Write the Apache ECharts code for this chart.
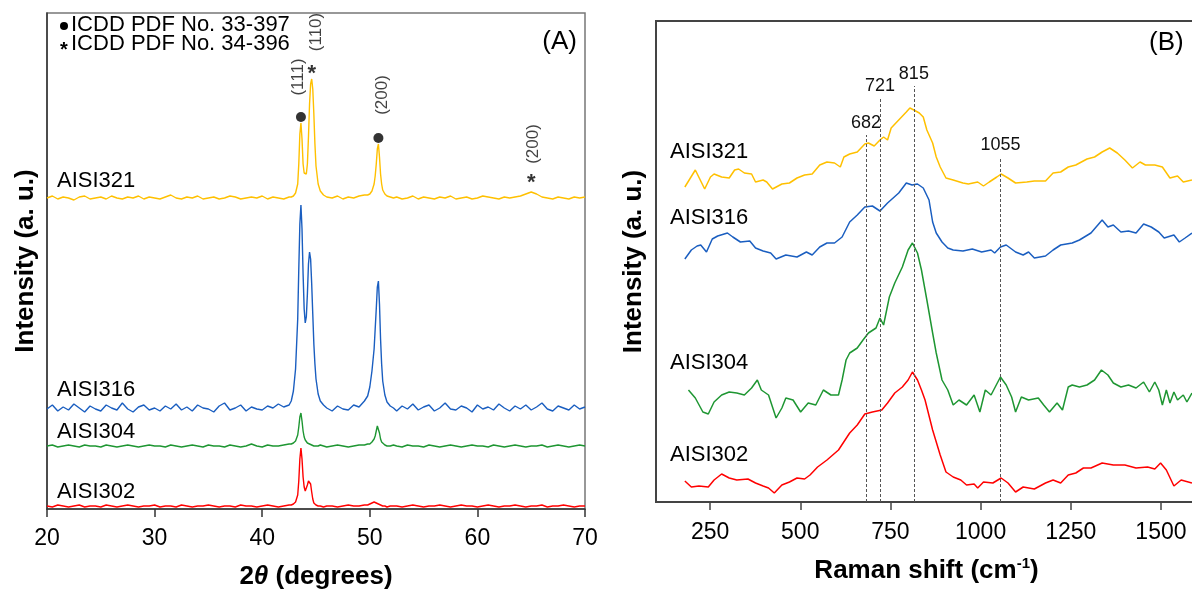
<!DOCTYPE html>
<html>
<head>
<meta charset="utf-8">
<script src="https://cdn.jsdelivr.net/npm/echarts@6/dist/echarts.min.js"></script>
<style>
html,body{margin:0;padding:0;background:#fff;}
#chart{width:1192px;height:592px;}
</style>
</head>
<body>
<div id="chart"></div>
<script>
// ---------------- Panel A : XRD ----------------
const twoTheta = [
  20,20.5,21,21.5,22,22.5,23,23.5,24,24.5,25,25.5,26,26.5,27,27.5,28,28.5,29,29.5,30,30.5,31,31.5,32,32.5,33,33.5,34,34.5,35,35.5,36,36.5,37,37.5,38,38.5,39,39.5,40,40.5,41,41.5,42,42.5,
  42.7,42.9,43.1,43.3,43.4,43.5,43.6,43.7,43.8,43.9,44.0,44.1,44.2,44.3,44.4,44.5,44.6,44.7,44.8,44.9,45.0,45.2,45.4,45.7,46.0,
  46.5,47,47.5,48,48.5,49,49.5,
  49.8,50.0,50.2,50.4,50.5,50.6,50.7,50.8,50.9,51.0,51.1,51.2,51.4,51.6,51.9,52.2,
  52.5,53,53.5,54,54.5,55,55.5,56,56.5,57,57.5,58,58.5,59,59.5,60,60.5,61,61.5,62,62.5,63,63.5,64,64.5,65,65.5,66,66.5,67,67.5,68,68.5,69,69.5,70
];
const xrd321 = [
  311,313,310,312,311,309,312,313,310,311,312,310,313,311,310,312,311,313,310,312,311,310,312,314,311,310,312,311,313,310,311,312,310,311,313,312,310,311,312,311,313,310,312,311,310,312,
  312,313,316,325,345,375,386,370,345,336,334,335,345,372,405,425,430,420,395,365,343,325,318,314,312,
  311,313,310,312,311,313,314,
  314,315,318,325,333,345,360,365,352,335,325,319,315,313,312,311,
  312,310,311,313,310,312,311,310,312,311,313,310,311,312,310,311,313,312,311,310,312,311,312,313,315,317,315,312,311,310,312,311,310,312,311,312
];
const xrd316 = [
  100,104,98,102,99,105,101,97,103,100,98,104,101,99,106,100,97,102,104,99,101,98,103,100,105,99,102,98,104,101,100,97,103,106,99,101,104,98,102,100,99,103,101,105,102,104,
  108,118,140,190,240,285,304,280,235,200,186,192,215,245,257,250,225,195,165,145,130,115,108,104,101,
  98,103,100,99,104,102,108,
  113,122,138,160,180,200,222,228,205,170,145,128,114,107,103,101,
  98,103,100,105,99,102,104,98,101,106,100,99,103,101,97,104,100,102,99,105,101,98,103,100,104,99,102,106,100,98,103,101,99,104,100,102
];
const xrd304 = [
  63,64,62,63,64,63,62,64,63,63,62,64,63,62,63,64,63,62,63,64,63,63,62,64,63,62,63,64,63,62,64,63,63,62,64,63,62,63,65,63,62,64,63,63,64,65,
  65,66,68,74,82,92,96,88,78,72,69,67,66,66,65,65,64,64,63,64,63,63,64,63,62,
  63,64,63,62,63,64,64,
  65,65,67,70,73,78,83,82,76,70,67,65,64,63,63,64,
  63,62,64,63,63,62,64,63,62,63,64,63,62,63,64,63,63,62,64,63,62,63,64,63,62,63,63,64,62,63,64,63,62,63,64,63
];
const xrd302 = [
  3,2,4,3,2,3,4,2,3,3,2,4,3,2,3,4,3,2,3,3,4,2,3,3,2,4,3,2,3,3,4,3,2,3,3,2,4,3,3,2,3,4,3,2,3,4,
  4,5,7,14,28,50,61,50,32,22,18,19,24,28,29,25,17,10,6,5,4,3,3,2,3,
  3,2,3,4,3,3,4,
  4,5,6,7,7,6,5,5,4,4,3,3,3,2,3,3,
  3,2,3,4,3,2,3,3,4,3,2,3,4,3,3,2,3,4,3,2,3,3,4,3,2,3,3,4,2,3,3,4,3,2,3,3
];
const xrdTicks = [20,30,40,50,60,70];
// phase markers
const dotMarkX = [43.6, 50.8];
const dotMarkY = [392, 371];
const starMarkX = [44.6, 65.0];
const starMarkY = [441, 332];
const hklLabels = ['(111)', '(110)', '(200)', '(200)'];
const hklX = [43.4, 45.0, 51.2, 65.2];
const hklY = [432, 477, 414, 365];

// ---------------- Panel B : Raman ----------------
const ramanX321 = [180,209,235,251,261,282,303,318,329,345,365,376,397,407,423,449,470,491,512,533,554,574,595,611,621,637,658,679,689,705,721,731,742,752,773,794,804,815,830,841,851,867,877,888,904,924,951,966,992,1008,1024,1045,1057,1076,1097,1128,1149,1180,1201,1222,1243,1264,1295,1316,1337,1358,1379,1400,1421,1442,1457,1483,1504,1525,1546,1562,1586];
const raman321 = [315,332,313,325,328,325,324,332,333,329,328,320,322,320,313,318,319,324,327,328,337,340,339,335,345,348,350,358,359,356,362,365,362,374,382,390,394,392,389,385,372,359,345,335,324,322,319,318,320,316,320,325,328,324,319,320,321,321,329,330,335,337,343,345,350,354,349,342,334,340,337,337,335,324,326,320,322];
const ramanX316 = [180,198,214,224,240,256,271,298,313,334,360,376,397,418,433,460,491,517,533,554,574,595,616,637,658,679,700,721,742,773,794,810,825,841,857,867,877,893,909,924,951,977,1003,1029,1039,1055,1071,1097,1118,1133,1149,1180,1201,1222,1254,1274,1306,1337,1353,1368,1389,1410,1431,1452,1473,1494,1509,1536,1551,1567,1586];
const raman316 = [243,252,256,257,250,263,266,269,265,260,261,254,251,249,243,247,245,250,247,255,259,259,265,280,287,295,296,291,299,309,319,317,318,314,302,280,269,260,254,252,251,253,250,252,249,255,257,250,247,250,244,246,252,257,259,262,269,282,275,277,270,271,269,278,275,270,264,267,260,264,269];
const ramanX304 = [190,209,230,245,261,282,303,324,345,365,381,392,412,433,449,460,480,501,522,543,564,585,606,616,627,637,658,674,689,710,721,731,747,762,783,799,811,825,836,851,867,877,893,909,924,940,961,982,998,1013,1029,1055,1071,1086,1097,1113,1133,1160,1175,1191,1212,1227,1243,1254,1274,1295,1316,1335,1353,1368,1389,1410,1431,1452,1468,1483,1494,1504,1515,1525,1536,1546,1562,1572,1586];
const raman304 = [112,104,90,88,100,107,110,109,107,114,122,112,107,84,94,104,102,90,99,97,112,107,107,122,142,149,154,162,169,174,184,177,205,219,235,252,259,249,232,202,169,149,122,112,97,102,97,107,90,112,107,125,117,105,90,105,102,104,97,90,99,92,115,117,115,117,122,132,127,119,115,117,114,120,110,120,112,97,112,99,110,102,107,100,109];
const ramanX302 = [180,198,219,245,261,282,303,324,355,376,397,412,428,449,470,491,512,527,548,574,606,637,658,679,700,726,742,762,783,799,811,825,836,846,867,888,904,924,945,961,982,992,1008,1034,1057,1076,1097,1118,1149,1180,1201,1222,1243,1264,1285,1306,1337,1368,1400,1431,1463,1483,1499,1515,1536,1556,1586];
const raman302 = [21,15,16,15,22,28,24,22,23,19,16,14,9,17,20,24,23,27,35,42,52,69,77,88,90,92,99,109,115,122,130,122,112,102,72,47,30,25,22,17,18,14,20,19,24,19,10,15,13,19,22,19,27,29,34,34,39,37,37,34,35,33,39,32,16,22,19];
const ramanTicks = [250,500,750,1000,1250,1500];
// characteristic bands (dashed guides)
const bandPos = [682, 721, 815, 1055];
const bandTop = [367, 404, 416, 345];

const sampleNames = ['AISI321','AISI316','AISI304','AISI302'];
const colors = ['#FFC000','#1A5EC0','#1E9632','#FF0000'];
const FONT = '"Liberation Sans", Arial, sans-serif';

const pair = (xs, ys) => xs.map((x, i) => [x, ys[i]]);

const chart = echarts.init(document.getElementById('chart'), null, {renderer: 'canvas'});

const xrdSeries = [xrd321, xrd316, xrd304, xrd302].map((arr, k) => ({
  type: 'line', xAxisIndex: 0, yAxisIndex: 0, name: sampleNames[k],
  data: pair(twoTheta, arr), showSymbol: false, smooth: false,
  lineStyle: {color: colors[k], width: 1.4}, itemStyle: {color: colors[k]},
  silent: true, z: 3
}));
const ramanSeries = [[ramanX321, raman321], [ramanX316, raman316], [ramanX304, raman304], [ramanX302, raman302]].map((d, k) => ({
  type: 'line', xAxisIndex: 1, yAxisIndex: 1, name: sampleNames[k] + 'R',
  data: pair(d[0], d[1]), showSymbol: false, smooth: false,
  lineStyle: {color: colors[k], width: 1.5}, itemStyle: {color: colors[k]},
  silent: true, z: 3
}));
ramanSeries[3].markLine = {
  silent: true, symbol: ['none', 'none'], animation: false,
  lineStyle: {color: '#555', width: 1, type: [3, 2]},
  label: {show: true, position: 'end', distance: 3, color: '#111', fontSize: 18, fontFamily: FONT,
          formatter: p => p.name},
  data: bandPos.map((x, i) => [{name: String(x), coord: [x, 0]}, {coord: [x, bandTop[i]]}])
};

const option = {
  animation: false,
  backgroundColor: '#fff',
  textStyle: {fontFamily: FONT},
  grid: [
    {left: 47, top: 13, width: 538, height: 496, show: true, borderColor: '#777', borderWidth: 1.5,
     backgroundColor: 'transparent', containLabel: false, outerBoundsMode: 'none'},
    {left: 656, top: 21, width: 541, height: 481, show: true, borderColor: '#444', borderWidth: 2,
     backgroundColor: 'transparent', containLabel: false, outerBoundsMode: 'none'}
  ],
  xAxis: [
    {
      gridIndex: 0, type: 'value', min: 20, max: 70, interval: 10,
      name: '{b|2}{i|θ}{b| (degrees)}', nameLocation: 'middle', nameGap: 55,
      nameTextStyle: {rich: {
        b: {fontSize: 26, fontWeight: 'bold', fontFamily: FONT, color: '#000'},
        i: {fontSize: 26, fontWeight: 'bold', fontStyle: 'italic', fontFamily: FONT, color: '#000'}
      }},
      axisLine: {show: true, onZero: false, lineStyle: {color: '#333', width: 1.5}},
      axisTick: {show: true, inside: false, length: 8, lineStyle: {color: '#333', width: 1.5}},
      axisLabel: {show: true, margin: 18, fontSize: 23, color: '#000', fontFamily: FONT,
                  customValues: xrdTicks, formatter: v => String(v)},
      splitLine: {show: false}
    },
    {
      gridIndex: 1, type: 'value', min: 100, max: 1600,
      name: '{a|Raman shift (cm}{s|-1}{a|)}', nameLocation: 'middle', nameGap: 54,
      nameTextStyle: {rich: {
        a: {fontSize: 26, fontWeight: 'bold', fontFamily: FONT, color: '#000', lineHeight: 30},
        s: {fontSize: 15, fontWeight: 'bold', fontFamily: FONT, color: '#000', verticalAlign: 'top', lineHeight: 16}
      }},
      axisLine: {show: true, onZero: false, lineStyle: {color: '#444', width: 2}},
      axisTick: {show: true, inside: false, length: 8, customValues: ramanTicks, lineStyle: {color: '#444', width: 1.5}},
      axisLabel: {show: true, margin: 19, fontSize: 23, color: '#000', fontFamily: FONT,
                  customValues: ramanTicks, formatter: v => String(v)},
      splitLine: {show: false}
    }
  ],
  yAxis: [
    {
      gridIndex: 0, type: 'value', min: 0, max: 496,
      name: 'Intensity (a. u.)', nameLocation: 'middle', nameGap: 8,
      nameTextStyle: {fontSize: 26, fontWeight: 'bold', color: '#000', fontFamily: FONT},
      axisLine: {show: true, onZero: false, lineStyle: {color: '#333', width: 1.5}},
      axisTick: {show: false}, axisLabel: {show: false}, splitLine: {show: false}
    },
    {
      gridIndex: 1, type: 'value', min: 0, max: 481,
      name: 'Intensity (a. u.)', nameLocation: 'middle', nameGap: 9,
      nameTextStyle: {fontSize: 26, fontWeight: 'bold', color: '#000', fontFamily: FONT},
      axisLine: {show: true, onZero: false, lineStyle: {color: '#444', width: 2}},
      axisTick: {show: false}, axisLabel: {show: false}, splitLine: {show: false}
    }
  ],
  series: [
    ...xrdSeries,
    ...ramanSeries,
    {
      type: 'scatter', xAxisIndex: 0, yAxisIndex: 0, name: 'dots',
      data: pair(dotMarkX, dotMarkY), symbol: 'circle', symbolSize: 10,
      itemStyle: {color: '#000'}, silent: true, z: 5
    },
    {
      type: 'scatter', xAxisIndex: 0, yAxisIndex: 0, name: 'stars',
      data: pair(starMarkX, starMarkY), symbol: 'circle', symbolSize: 1,
      itemStyle: {color: 'transparent'}, silent: true, z: 5,
      label: {show: true, position: 'inside', formatter: '*', fontSize: 22, fontWeight: 'bold', color: '#000', fontFamily: FONT, offset: [0, 6]}
    },
    {
      type: 'scatter', xAxisIndex: 0, yAxisIndex: 0, name: 'hkl',
      data: pair(hklX, hklY), symbol: 'circle', symbolSize: 1,
      itemStyle: {color: 'transparent'}, silent: true, z: 5,
      label: {show: true, position: 'inside', rotate: 90, fontSize: 17, color: '#111', fontFamily: FONT,
              formatter: p => hklLabels[p.dataIndex]}
    }
  ],
  graphic: [
    {type: 'circle', shape: {cx: 64, cy: 26, r: 4}, style: {fill: '#000'}, silent: true},
    {type: 'text', x: 71, y: 25, style: {text: 'ICDD PDF No. 33-397', font: '22px ' + FONT, fill: '#000', verticalAlign: 'middle', align: 'left'}, silent: true},
    {type: 'text', x: 64, y: 50, style: {text: '*', font: 'bold 20px ' + FONT, fill: '#000', verticalAlign: 'middle', align: 'center'}, silent: true},
    {type: 'text', x: 71, y: 44, style: {text: 'ICDD PDF No. 34-396', font: '22px ' + FONT, fill: '#000', verticalAlign: 'middle', align: 'left'}, silent: true},
    {type: 'text', x: 577, y: 42, style: {text: '(A)', font: '26px ' + FONT, fill: '#000', verticalAlign: 'middle', align: 'right'}, silent: true},
    {type: 'text', x: 1149, y: 43, style: {text: '(B)', font: '26px ' + FONT, fill: '#000', verticalAlign: 'middle', align: 'left'}, silent: true},
    {type: 'text', x: 57, y: 181, style: {text: sampleNames[0], font: '22px ' + FONT, fill: '#000', verticalAlign: 'middle'}, silent: true},
    {type: 'text', x: 57, y: 390, style: {text: sampleNames[1], font: '22px ' + FONT, fill: '#000', verticalAlign: 'middle'}, silent: true},
    {type: 'text', x: 57, y: 432, style: {text: sampleNames[2], font: '22px ' + FONT, fill: '#000', verticalAlign: 'middle'}, silent: true},
    {type: 'text', x: 57, y: 492, style: {text: sampleNames[3], font: '22px ' + FONT, fill: '#000', verticalAlign: 'middle'}, silent: true},
    {type: 'text', x: 670, y: 152, style: {text: sampleNames[0], font: '22px ' + FONT, fill: '#000', verticalAlign: 'middle'}, silent: true},
    {type: 'text', x: 670, y: 218, style: {text: sampleNames[1], font: '22px ' + FONT, fill: '#000', verticalAlign: 'middle'}, silent: true},
    {type: 'text', x: 670, y: 363, style: {text: sampleNames[2], font: '22px ' + FONT, fill: '#000', verticalAlign: 'middle'}, silent: true},
    {type: 'text', x: 670, y: 455, style: {text: sampleNames[3], font: '22px ' + FONT, fill: '#000', verticalAlign: 'middle'}, silent: true}
  ]
};
chart.setOption(option);
</script>
</body>
</html>
